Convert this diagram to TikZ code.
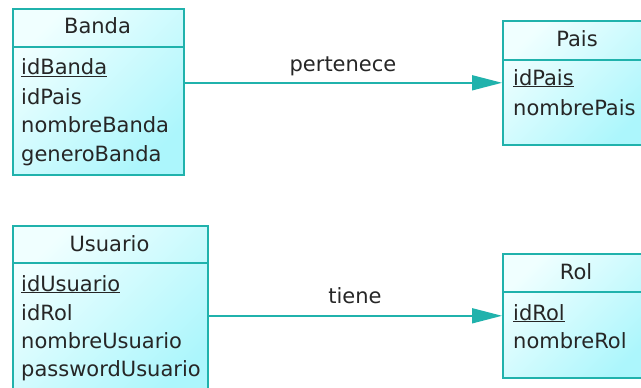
\documentclass[tikz,border=0pt]{standalone}
\usepackage{fontspec}
\setmainfont{DejaVu Sans}
\usetikzlibrary{arrows.meta}
\definecolor{tealb}{RGB}{32,178,172}
\definecolor{cyanA}{RGB}{240,255,255}
\definecolor{cyanB}{RGB}{172,246,252}
\tikzset{
  entity/.style={draw=tealb, line width=1.6pt, rectangle, anchor=north west, inner sep=0pt,
    shading=axis, left color=cyanA, right color=cyanB, shading angle=45},
  divider/.style={draw=tealb, line width=1.6pt},
  title/.style={font=\fontsize{21}{24}\selectfont, text=black!85, anchor=base, inner sep=0pt},
  attr/.style={font=\fontsize{21}{24}\selectfont, text=black!85, anchor=base west, inner sep=0pt},
  rel/.style={draw=tealb, line width=1.6pt, -{Triangle[length=30pt,width=15pt]}},
  rellabel/.style={font=\fontsize{21}{24}\selectfont, text=black!85, anchor=base, inner sep=0pt}
}
\begin{document}
\begin{tikzpicture}[x=1pt,y=-1pt]
\clip (0,0) rectangle (641,388);
\fill[white] (0,0) rectangle (641,388);
% Banda
\node[entity, minimum width=171pt, minimum height=166pt] (banda) at (12,8) {};
\draw[divider] (12,47) -- (183,47);
\node[title] (bandat) at (97.5,34) {Banda};
\node[attr] (b1) at (21,74.5) {\underline{idBanda}};
\node[attr] (b2) at (21,104) {idPais};
\node[attr] (b3) at (21,132.5) {nombreBanda};
\node[attr] (b4) at (21,161) {generoBanda};
% Pais
\node[entity, minimum width=148pt, minimum height=124pt] (pais) at (502,20) {};
\draw[divider] (502,60) -- (650,60);
\node[title] (paist) at (577,46) {Pais};
\node[attr] (p1) at (513,85) {\underline{idPais}};
\node[attr] (p2) at (513,115) {nombrePais};
% Usuario
\node[entity, minimum width=195pt, minimum height=175pt] (usuario) at (12,225) {};
\draw[divider] (12,263) -- (207,263);
\node[title] (usuariot) at (109.5,251) {Usuario};
\node[attr] (u1) at (21,291) {\underline{idUsuario}};
\node[attr] (u2) at (21,320) {idRol};
\node[attr] (u3) at (21,348) {nombreUsuario};
\node[attr] (u4) at (21,376) {passwordUsuario};
% Rol
\node[entity, minimum width=148pt, minimum height=124pt] (rol) at (502,253) {};
\draw[divider] (502,292) -- (650,292);
\node[title] (rolt) at (576,279) {Rol};
\node[attr] (r1) at (513,320) {\underline{idRol}};
\node[attr] (r2) at (513,348) {nombreRol};
% relations
\draw[rel] (pais.west -| banda.east) -- (pais.west);
\node[rellabel] (l1) at (343,71) {pertenece};
\draw[rel] (rol.west -| usuario.east) -- (rol.west);
\node[rellabel] (l2) at (355,303) {tiene};
\end{tikzpicture}
\end{document}
